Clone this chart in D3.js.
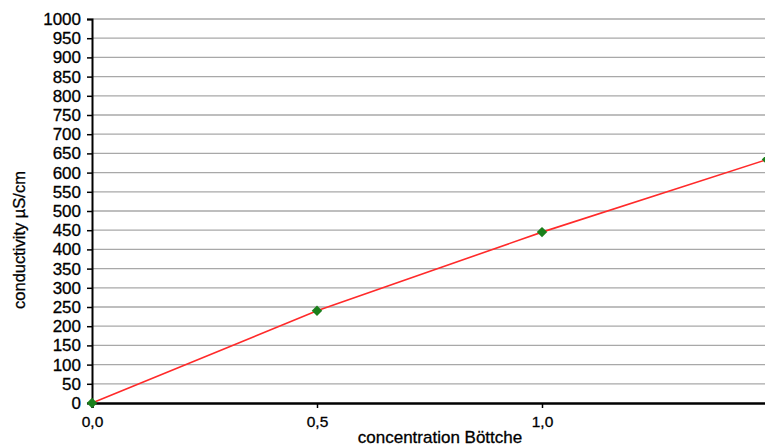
<!DOCTYPE html>
<html>
<head>
<meta charset="utf-8">
<script src="https://cdn.jsdelivr.net/npm/d3@7"></script>
<style>
  body { margin: 0; background: #fff; }
  svg { display: block; font-family: "Liberation Sans", Arial, sans-serif; }
</style>
</head>
<body>
<svg id="chart" width="765" height="448"></svg>
<script>
// data
var concentration = [0.0, 0.5, 1.0, 1.5];
var conductivity = [0, 240, 445, 634];
var xTicks = [0.0, 0.5, 1.0];
var yTicks = d3.range(0, 1001, 50);

var width = 765, height = 448;
var margin = { top: 19, right: -2, bottom: 45, left: 92 };

var svg = d3.select('#chart');

var x = d3.scaleLinear().domain([0, 1.5]).range([margin.left, width - margin.right]);
var y = d3.scaleLinear().domain([0, 1000]).range([height - margin.bottom, margin.top]);

// grid
svg.append('g')
  .selectAll('line')
  .data(yTicks.filter(function(d) { return d > 0; }))
  .join('line')
    .attr('x1', margin.left)
    .attr('x2', width)
    .attr('y1', function(d) { return y(d); })
    .attr('y2', function(d) { return y(d); })
    .attr('stroke', '#a8a8a8')
    .attr('stroke-width', 1.3);

// y axis
var yAxis = svg.append('g')
  .attr('transform', 'translate(' + margin.left + ',0)')
  .call(d3.axisLeft(y).tickValues(yTicks).tickSize(5).tickPadding(6).tickFormat(d3.format('d')));
yAxis.select('.domain').attr('stroke', '#000').attr('stroke-width', 2);
yAxis.selectAll('.tick line').attr('stroke', '#000').attr('stroke-width', 1.5);
yAxis.selectAll('.tick text')
  .attr('font-size', 17)
  .attr('font-family', '"Liberation Sans", Arial, sans-serif')
  .attr('fill', '#000')
  .attr('stroke', '#000')
  .attr('stroke-width', 0.3);

// x axis
var xAxis = svg.append('g')
  .attr('transform', 'translate(0,' + y(0) + ')')
  .call(d3.axisBottom(x).tickValues(xTicks).tickSize(5).tickPadding(8)
    .tickFormat(function(d) { return d3.format('.1f')(d).replace('.', ','); }));
xAxis.select('.domain').attr('stroke', '#000').attr('stroke-width', 2.5);
xAxis.selectAll('.tick line').attr('stroke', '#000').attr('stroke-width', 1.5);
xAxis.selectAll('.tick text')
  .attr('font-size', 15.5)
  .attr('font-family', '"Liberation Sans", Arial, sans-serif')
  .attr('fill', '#000')
  .attr('stroke', '#000')
  .attr('stroke-width', 0.3);

// axis titles
svg.append('text')
  .attr('transform', 'translate(25,240) rotate(-90)')
  .attr('text-anchor', 'middle')
  .attr('font-size', 16.5)
  .attr('stroke', '#000')
  .attr('stroke-width', 0.3)
  .text('conductivity µS/cm');

svg.append('text')
  .attr('x', 440)
  .attr('y', 443)
  .attr('text-anchor', 'middle')
  .attr('font-size', 17)
  .attr('stroke', '#000')
  .attr('stroke-width', 0.3)
  .text('concentration Böttche');

// line
var pts = concentration.map(function(c, i) { return [c, conductivity[i]]; });
svg.append('path')
  .datum(pts)
  .attr('fill', 'none')
  .attr('stroke', '#ff2a2a')
  .attr('stroke-width', 1.6)
  .attr('d', d3.line().x(function(d) { return x(d[0]); }).y(function(d) { return y(d[1]); }));

// markers
svg.append('g')
  .selectAll('path')
  .data(pts)
  .join('path')
    .attr('transform', function(d) { return 'translate(' + x(d[0]) + ',' + y(d[1]) + ')'; })
    .attr('d', d3.symbol().type(d3.symbolDiamond2).size(70))
    .attr('fill', '#1b7f1b');
</script>
</body>
</html>
